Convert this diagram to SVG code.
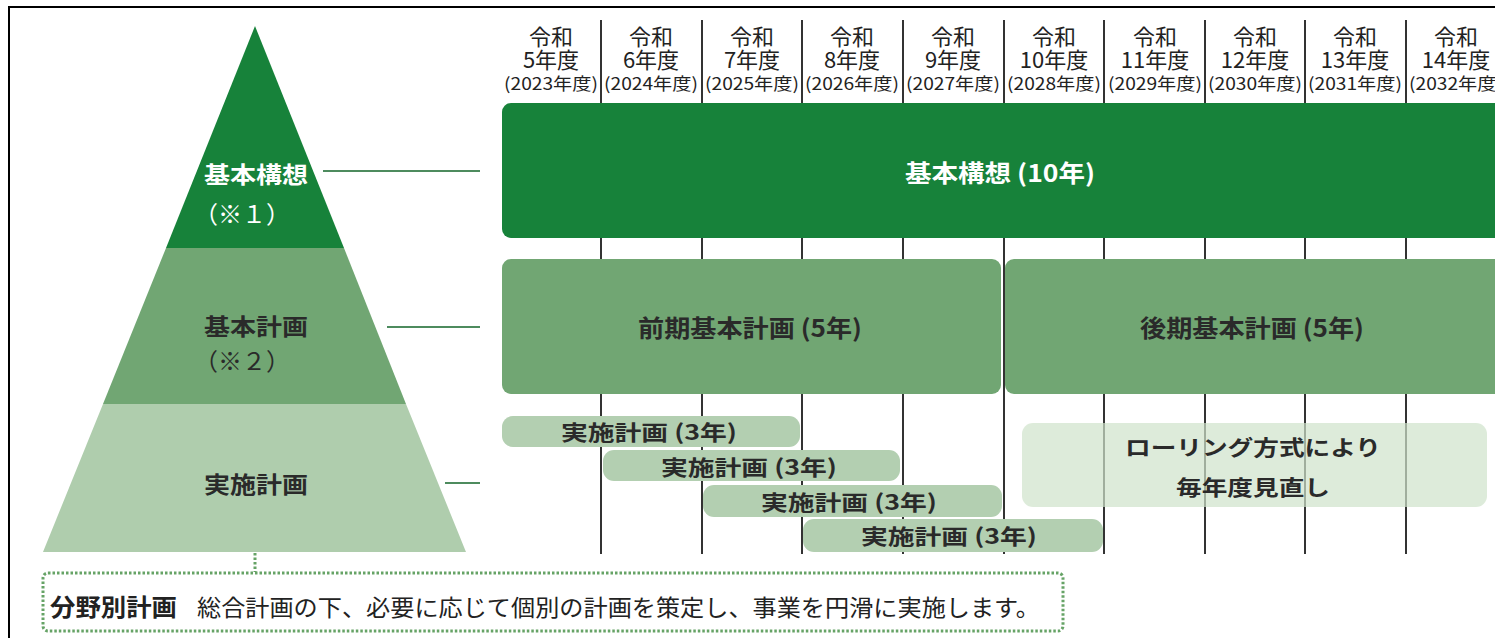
<svg xmlns="http://www.w3.org/2000/svg" width="1495" height="638" viewBox="0 0 1495 638">
<style>
text{font-family:"Noto Sans CJK JP","Noto Sans",sans-serif;}
.hd{font-size:22px;fill:#222;text-anchor:middle;}
.yr{font-size:17px;fill:#222;text-anchor:middle;}
.vl{stroke:#333;stroke-width:2;}
.lbl{font-size:24px;font-weight:bold;text-anchor:middle;}
.impl{fill:#b3cfb1;}
.it{font-size:21px;font-weight:bold;fill:#2a2a2a;text-anchor:middle;}
.pl{font-size:23px;font-weight:bold;}
.conn{stroke:#4d8b5e;stroke-width:2;fill:none;}
.dot{stroke:#66a366;stroke-width:3;fill:none;stroke-dasharray:2.5 2;}
</style>
<rect width="1495" height="638" fill="#fff"/>
<g id="frame">
<line x1="8" y1="7" x2="1495" y2="7" stroke="#000" stroke-width="2"/>
<line x1="9" y1="6" x2="9" y2="638" stroke="#000" stroke-width="2"/>
</g>
<g id="grid">
<line class="vl" x1="601" y1="20" x2="601" y2="554"/>
<line class="vl" x1="702" y1="20" x2="702" y2="554"/>
<line class="vl" x1="802" y1="20" x2="802" y2="554"/>
<line class="vl" x1="903" y1="20" x2="903" y2="554"/>
<line class="vl" x1="1004" y1="20" x2="1004" y2="554"/>
<line class="vl" x1="1104" y1="20" x2="1104" y2="554"/>
<line class="vl" x1="1205" y1="20" x2="1205" y2="554"/>
<line class="vl" x1="1305" y1="20" x2="1305" y2="554"/>
<line class="vl" x1="1406" y1="20" x2="1406" y2="554"/>
</g>
<g id="header">
<g id="y2023"><text class="hd" x="551" y="45">令和</text><text class="hd" x="551" y="68">5年度</text><text class="yr" x="551" y="90" textLength="94" lengthAdjust="spacingAndGlyphs">(2023年度)</text></g>
<g id="y2024"><text class="hd" x="651" y="45">令和</text><text class="hd" x="651" y="68">6年度</text><text class="yr" x="651" y="90" textLength="94" lengthAdjust="spacingAndGlyphs">(2024年度)</text></g>
<g id="y2025"><text class="hd" x="752" y="45">令和</text><text class="hd" x="752" y="68">7年度</text><text class="yr" x="752" y="90" textLength="94" lengthAdjust="spacingAndGlyphs">(2025年度)</text></g>
<g id="y2026"><text class="hd" x="852" y="45">令和</text><text class="hd" x="852" y="68">8年度</text><text class="yr" x="852" y="90" textLength="94" lengthAdjust="spacingAndGlyphs">(2026年度)</text></g>
<g id="y2027"><text class="hd" x="953" y="45">令和</text><text class="hd" x="953" y="68">9年度</text><text class="yr" x="953" y="90" textLength="94" lengthAdjust="spacingAndGlyphs">(2027年度)</text></g>
<g id="y2028"><text class="hd" x="1054" y="45">令和</text><text class="hd" x="1054" y="68">10年度</text><text class="yr" x="1054" y="90" textLength="94" lengthAdjust="spacingAndGlyphs">(2028年度)</text></g>
<g id="y2029"><text class="hd" x="1155" y="45">令和</text><text class="hd" x="1155" y="68">11年度</text><text class="yr" x="1155" y="90" textLength="94" lengthAdjust="spacingAndGlyphs">(2029年度)</text></g>
<g id="y2030"><text class="hd" x="1255" y="45">令和</text><text class="hd" x="1255" y="68">12年度</text><text class="yr" x="1255" y="90" textLength="94" lengthAdjust="spacingAndGlyphs">(2030年度)</text></g>
<g id="y2031"><text class="hd" x="1355" y="45">令和</text><text class="hd" x="1355" y="68">13年度</text><text class="yr" x="1355" y="90" textLength="94" lengthAdjust="spacingAndGlyphs">(2031年度)</text></g>
<g id="y2032"><text class="hd" x="1456" y="45">令和</text><text class="hd" x="1456" y="68">14年度</text><text class="yr" x="1456" y="90" textLength="94" lengthAdjust="spacingAndGlyphs">(2032年度)</text></g>
</g>
<g id="bar-kihonkoso">
<rect x="502" y="103" width="1010" height="135" rx="9" fill="#17823a"/>
<text class="lbl" x="1000" y="182" fill="#fff" textLength="190" lengthAdjust="spacingAndGlyphs">基本構想 (10年)</text>
</g>
<g id="bar-zenki">
<rect x="502" y="259" width="499" height="135" rx="9" fill="#71a673"/>
<text class="lbl" x="750" y="337" fill="#2a2a2a" textLength="224" lengthAdjust="spacingAndGlyphs">前期基本計画 (5年)</text>
</g>
<g id="bar-koki">
<rect x="1005" y="259" width="510" height="135" rx="9" fill="#71a673"/>
<text class="lbl" x="1252" y="337" fill="#2a2a2a" textLength="224" lengthAdjust="spacingAndGlyphs">後期基本計画 (5年)</text>
</g>
<g id="impl1"><rect class="impl" x="502" y="416" width="298" height="31" rx="11"/><text class="it" x="649" y="440" textLength="176" lengthAdjust="spacingAndGlyphs">実施計画 (3年)</text></g>
<g id="impl2"><rect class="impl" x="603" y="450" width="297" height="31" rx="11"/><text class="it" x="749" y="475" textLength="176" lengthAdjust="spacingAndGlyphs">実施計画 (3年)</text></g>
<g id="impl3"><rect class="impl" x="703" y="485" width="299" height="32" rx="11"/><text class="it" x="849" y="510" textLength="176" lengthAdjust="spacingAndGlyphs">実施計画 (3年)</text></g>
<g id="impl4"><rect class="impl" x="803" y="519" width="300" height="33" rx="11"/><text class="it" x="949" y="544" textLength="176" lengthAdjust="spacingAndGlyphs">実施計画 (3年)</text></g>
<g id="rolling">
<rect x="1022" y="423" width="465" height="84" rx="11" fill="#cfe2cb" fill-opacity="0.7"/>
<text class="it" x="1253" y="455" font-size="23" textLength="256" lengthAdjust="spacingAndGlyphs">ローリング方式により</text>
<text class="it" x="1253" y="495" font-size="23" textLength="154" lengthAdjust="spacingAndGlyphs">毎年度見直し</text>
</g>
<g id="pyr-kihonkoso">
<polygon points="255,26 344,248 166,248" fill="#17823a"/>
<text class="pl" x="204" y="183" fill="#fff" textLength="104" lengthAdjust="spacingAndGlyphs">基本構想</text>
<text x="194" y="223" font-size="24" fill="#fff">（※１）</text>
</g>
<g id="pyr-kihonkeikaku">
<polygon points="166,248 344,248 406,404 103,404" fill="#71a673"/>
<text class="pl" x="204" y="335" fill="#2a2a2a" textLength="104" lengthAdjust="spacingAndGlyphs">基本計画</text>
<text x="194" y="370" font-size="24" fill="#2a2a2a">（※２）</text>
</g>
<g id="pyr-jisshi">
<polygon points="103,404 406,404 466,552 43,552" fill="#afcdad"/>
<text class="pl" x="204" y="493" fill="#2a2a2a" textLength="104" lengthAdjust="spacingAndGlyphs">実施計画</text>
</g>
<g id="bunya">
<rect class="dot" x="43" y="573" width="1020" height="58" rx="5"/>
<text x="50" y="616" font-size="24" font-weight="bold" fill="#222" textLength="127" lengthAdjust="spacingAndGlyphs">分野別計画</text>
<text x="197" y="616" font-size="23" fill="#222" textLength="843" lengthAdjust="spacingAndGlyphs">総合計画の下、必要に応じて個別の計画を策定し、事業を円滑に実施します。</text>
</g>
<g id="connectors">
<line class="conn" x1="323" y1="171" x2="480" y2="171"/>
<line class="conn" x1="387" y1="327" x2="480" y2="327"/>
<line class="conn" x1="445" y1="483" x2="480" y2="483"/>
<line class="dot" x1="255" y1="553" x2="255" y2="572" stroke="#7a9a7a"/>
</g>
</svg>
